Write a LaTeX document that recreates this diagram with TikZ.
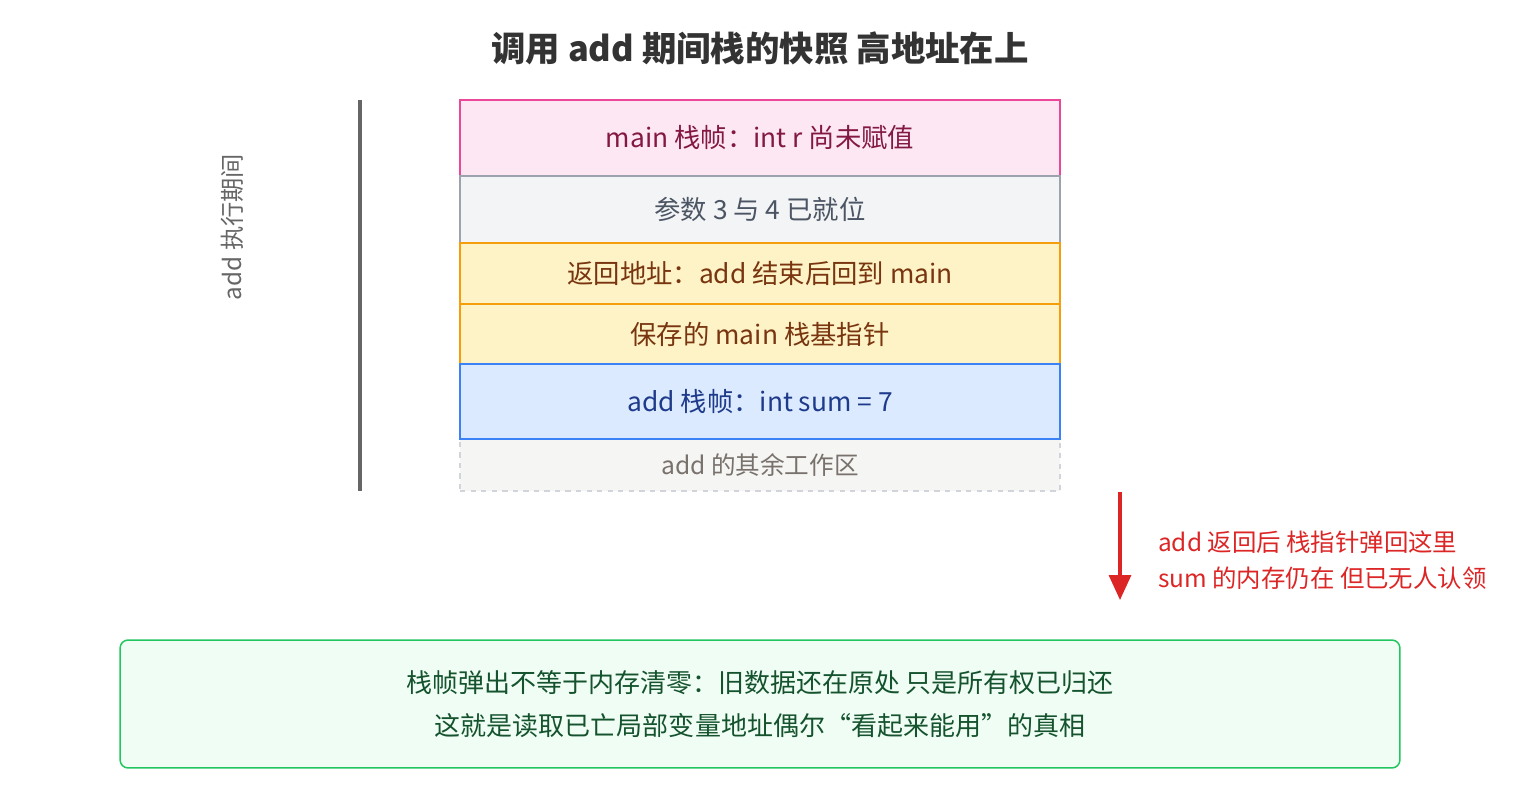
\documentclass[tikz,border=0pt]{standalone}
\usepackage{fontspec}
\setmainfont{Noto Sans CJK SC}
\usetikzlibrary{positioning,arrows.meta}

\definecolor{pinkfill}{HTML}{FCE7F3}
\definecolor{pinkline}{HTML}{EC4899}
\definecolor{pinktext}{HTML}{831843}
\definecolor{greyfill}{HTML}{F3F4F6}
\definecolor{greyline}{HTML}{9CA3AF}
\definecolor{greytext}{HTML}{4B5563}
\definecolor{yellfill}{HTML}{FEF3C7}
\definecolor{yellline}{HTML}{F59E0B}
\definecolor{yelltext}{HTML}{78350F}
\definecolor{bluefill}{HTML}{DBEAFE}
\definecolor{blueline}{HTML}{3B82F6}
\definecolor{bluetext}{HTML}{1E3A8A}
\definecolor{restfill}{HTML}{F5F5F4}
\definecolor{restline}{HTML}{D1D5DB}
\definecolor{resttext}{HTML}{78716C}
\definecolor{popred}{HTML}{DC2626}
\definecolor{notefill}{HTML}{F0FDF4}
\definecolor{noteline}{HTML}{22C55E}
\definecolor{notetext}{HTML}{14532D}

\begin{document}
\begin{tikzpicture}[x=0.02cm,y=-0.02cm,node distance=0pt,
  slot/.style={draw,line width=0.85pt,minimum width=12cm,inner sep=0pt,outer sep=0pt,font=\fontsize{15}{18}\selectfont},
  main frame/.style={slot,fill=pinkfill,draw=pinkline,text=pinktext,minimum height=1.52cm},
  arg frame/.style={slot,fill=greyfill,draw=greyline,text=greytext,minimum height=1.34cm},
  link frame/.style={slot,fill=yellfill,draw=yellline,text=yelltext},
  add frame/.style={slot,fill=bluefill,draw=blueline,text=bluetext,minimum height=1.5cm},
  rest frame/.style={slot,fill=restfill,draw=restline,text=resttext,dashed,minimum height=1.04cm,font=\fontsize{14}{17}\selectfont}]
  \useasboundingbox (0,0) rectangle (1520,800);
  \node[font=\fontsize{19.6}{22}\selectfont\bfseries,text=black!80] (title) at (760,48) {调用 add 期间栈的快照 高地址在上};
  % the stack, top to bottom
  \node[main frame]                                       (mainf) at (760,138) {main 栈帧：int r 尚未赋值};
  \node[arg frame]                      [below=of mainf]  (args)  {参数 3 与 4 已就位};
  \node[link frame,minimum height=1.22cm] [below=of args] (ret)   {返回地址：add 结束后回到 main};
  \node[link frame,minimum height=1.2cm]  [below=of ret]  (savbp) {保存的 main 栈基指针};
  \node[rest frame]  at (760,465)                         (rest)  {add 的其余工作区};
  \node[add frame]                      [below=of savbp]  (addf)  {add 栈帧：int sum = 7};
  % span of add
  \coordinate (spanT) at (360,100);
  \coordinate (spanB) at (360,491);
  \draw[line width=2.2pt,black!60] (spanT) -- (spanB);
  \node[rotate=90,text=black!60,font=\fontsize{13.8}{16}\selectfont] (spanlbl) at (232,227) {add 执行期间};
  % pop arrow
  \coordinate (popS) at (1120,492);
  \coordinate (popE) at (1120,600);
  \draw[-{Triangle[length=0.5cm,width=0.44cm]},line width=1.9pt,popred] (popS) -- (popE);
  \node[anchor=west,align=left,text=popred,font=\fontsize{13.9}{20.4}\selectfont] (poplbl) at (1152,560)
    {add 返回后 栈指针弹回这里\\sum 的内存仍在 但已无人认领};
  % the moral
  \node[draw=noteline,fill=notefill,line width=0.85pt,rounded corners=0.16cm,minimum width=25.6cm,minimum height=2.56cm,
    align=center,text=notetext,font=\fontsize{14.8}{24.4}\selectfont] (note) at (760,704)
    {栈帧弹出不等于内存清零：旧数据还在原处 只是所有权已归还\\这就是读取已亡局部变量地址偶尔“看起来能用”的真相};
\end{tikzpicture}
\end{document}
